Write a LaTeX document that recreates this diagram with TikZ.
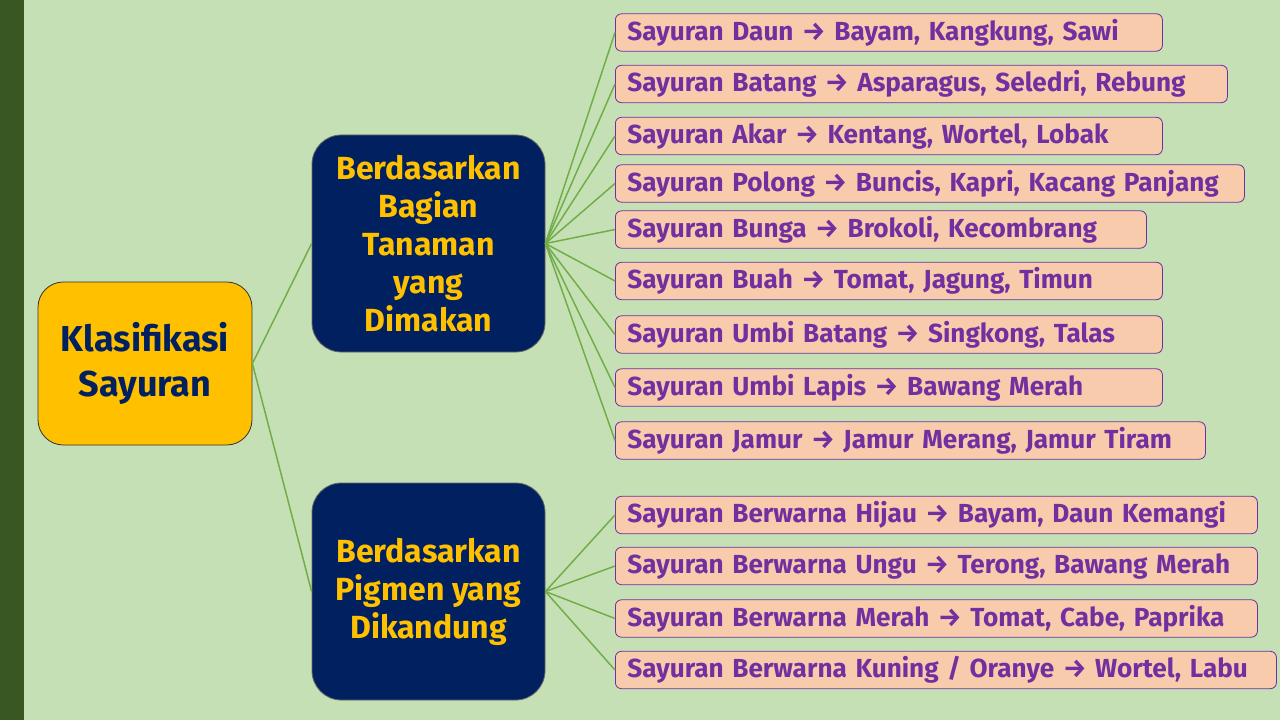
\documentclass[tikz,border=0pt]{standalone}
\usepackage{fontspec}
\setmainfont{Fira Sans}
\usepackage{tikz}
\usetikzlibrary{positioning}
\definecolor{latar}{HTML}{C5E0B4}
\definecolor{pita}{HTML}{385723}
\definecolor{emas}{HTML}{FFC000}
\definecolor{biru}{HTML}{002060}
\definecolor{ungu}{HTML}{7030A0}
\definecolor{peach}{HTML}{F8CBAD}
\definecolor{hijau}{HTML}{70AD47}
\newcommand{\panah}{→}
\tikzset{
    induk/.style={draw=black!80, fill=emas, text=biru, rounded corners=19pt, line width=.6pt,
        minimum width=160.5pt, minimum height=122.25pt, align=center,
        font=\bfseries\fontsize{27}{34}\selectfont},
    kelompok/.style={draw=black!60, fill=biru, text=emas, rounded corners=22pt, line width=.6pt,
        minimum width=174.75pt, minimum height=162.75pt, align=center,
        font=\bfseries\fontsize{24}{28.5}\selectfont},
    jenis/.style={draw=ungu, fill=peach, text=ungu, rounded corners=4.5pt, line width=.6pt,
        anchor=west, inner xsep=9pt, inner ysep=0pt, minimum height=28pt, text width=#1,
        align=left, font=\bfseries\fontsize{19.6}{22}\selectfont},
    jenis/.default={392.25pt},
    garis/.style={draw=hijau, line width=1.1pt},
}
\begin{document}
\begin{tikzpicture}[x=0.75pt, y=-0.75pt]
                 \fill[latar] (0,0) rectangle (1280,720);
                 \fill[pita] (0,0) rectangle (24,720);
                 \useasboundingbox (0,0) rectangle (1280,720);

                 \node[induk] (klas) at (145,363.5) {Klasifikasi\\Sayuran};
                 \node[kelompok] (bagian) at (428.5,243.5) {Berdasarkan\\Bagian\\Tanaman\\yang\\Dimakan};
                 \node[kelompok] (pigmen) at (428.5,591.5) {Berdasarkan\\Pigmen yang\\Dikandung};

                 \node[jenis] (daun) at (615,32.5) {Sayuran Daun \panah{} Bayam, Kangkung, Sawi};
                 \node[jenis=441pt] (batang) at (615,84) {Sayuran Batang \panah{} Asparagus, Seledri, Rebung};
                 \node[jenis] (akar) at (615,136) {Sayuran Akar \panah{} Kentang, Wortel, Lobak};
                 \node[jenis=453.75pt] (polong) at (615,183.5) {Sayuran Polong \panah{} Buncis, Kapri, Kacang Panjang};
                 \node[jenis=380.25pt] (bunga) at (615,229.5) {Sayuran Bunga \panah{} Brokoli, Kecombrang};
                 \node[jenis] (buah) at (615,281) {Sayuran Buah \panah{} Tomat, Jagung, Timun};
                 \node[jenis] (umbib) at (615,334.5) {Sayuran Umbi Batang \panah{} Singkong, Talas};
                 \node[jenis] (umbil) at (615,387.5) {Sayuran Umbi Lapis \panah{} Bawang Merah};
                 \node[jenis=424.5pt] (jamur) at (615,440.5) {Sayuran Jamur \panah{} Jamur Merang, Jamur Tiram};

                 \node[jenis=463.5pt] (wHijau) at (615,515) {Sayuran Berwarna Hijau \panah{} Bayam, Daun Kemangi};
                 \node[jenis=463.5pt] (wUngu) at (615,566) {Sayuran Berwarna Ungu \panah{} Terong, Bawang Merah};
                 \node[jenis=463.5pt] (wMerah) at (615,618.5) {Sayuran Berwarna Merah \panah{} Tomat, Cabe, Paprika};
                 \node[jenis=477.75pt] (wKuning) at (615,670) {Sayuran Berwarna Kuning / Oranye \panah{} Wortel, Labu};

                 \draw[garis] (klas.east) -- (bagian.west);
                 \draw[garis] (klas.east) -- (pigmen.west);

                 \draw[garis] (bagian.east) -- (daun.west);
                 \draw[garis] (bagian.east) -- (batang.west);
                 \draw[garis] (bagian.east) -- (akar.west);
                 \draw[garis] (bagian.east) -- (polong.west);
                 \draw[garis] (bagian.east) -- (bunga.west);
                 \draw[garis] (bagian.east) -- (buah.west);
                 \draw[garis] (bagian.east) -- (umbib.west);
                 \draw[garis] (bagian.east) -- (umbil.west);
                 \draw[garis] (bagian.east) -- (jamur.west);

                 \draw[garis] (pigmen.east) -- (wHijau.west);
                 \draw[garis] (pigmen.east) -- (wUngu.west);
                 \draw[garis] (pigmen.east) -- (wMerah.west);
                 \draw[garis] (pigmen.east) -- (wKuning.west);
\end{tikzpicture}
\end{document}
